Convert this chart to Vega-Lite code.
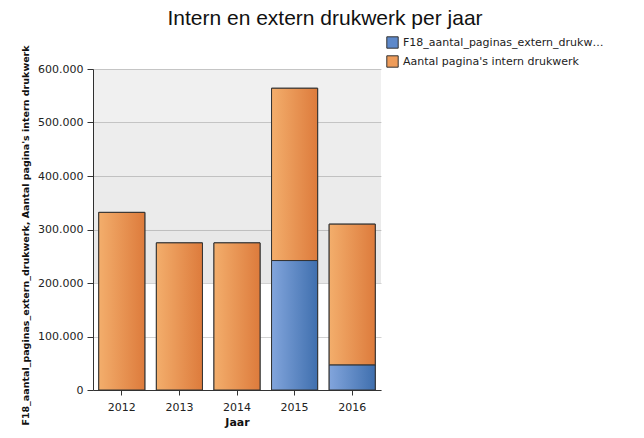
{
  "$schema": "https://vega.github.io/schema/vega-lite/v6.json",
  "width": 288,
  "height": 321,
  "autosize": "none",
  "padding": {"left": 93, "top": 69, "right": 263, "bottom": 48},
  "background": "white",
  "title": {
    "text": "Intern en extern drukwerk per jaar",
    "font": "Liberation Sans",
    "fontSize": 21,
    "fontWeight": "normal",
    "color": "#111",
    "anchor": "middle",
    "frame": "group",
    "dx": 88,
    "offset": 7
  },
  "config": {
    "view": {"stroke": null},
    "axis": {
      "labelFont": "DejaVu Sans",
      "labelFontSize": 11,
      "labelColor": "#222",
      "titleFont": "DejaVu Sans",
      "titleColor": "#111",
      "domainColor": "#333",
      "tickColor": "#333",
      "gridColor": "#d2d2d2"
    }
  },
  "datasets": {
    "bars": [
      {"Jaar": "2012", "series": "Aantal pagina's intern drukwerk", "value": 332000, "ord": 2},
      {"Jaar": "2013", "series": "Aantal pagina's intern drukwerk", "value": 275000, "ord": 2},
      {"Jaar": "2014", "series": "Aantal pagina's intern drukwerk", "value": 275000, "ord": 2},
      {"Jaar": "2015", "series": "F18_aantal_paginas_extern_drukwerk", "value": 242000, "ord": 1},
      {"Jaar": "2015", "series": "Aantal pagina's intern drukwerk", "value": 322000, "ord": 2},
      {"Jaar": "2016", "series": "F18_aantal_paginas_extern_drukwerk", "value": 47000, "ord": 1},
      {"Jaar": "2016", "series": "Aantal pagina's intern drukwerk", "value": 263000, "ord": 2}
    ],
    "bands": [
      {"lo": 500000, "hi": 600000, "band": "a"},
      {"lo": 400000, "hi": 500000, "band": "b"},
      {"lo": 300000, "hi": 400000, "band": "c"},
      {"lo": 200000, "hi": 300000, "band": "d"}
    ]
  },
  "layer": [
    {
      "data": {"name": "bands"},
      "mark": {"type": "rect", "fill": "#000"},
      "encoding": {
        "y": {"field": "hi", "type": "quantitative", "scale": {"domain": [0, 600000], "nice": false}, "title": "F18_aantal_paginas_extern_drukwerk, Aantal pagina's intern drukwerk"},
        "y2": {"field": "lo"},
        "opacity": {"field": "band", "type": "nominal", "scale": {"domain": ["a", "b", "c", "d"], "range": [0.06, 0.09, 0.055, 0.025]}, "legend": null}
      }
    },
    {
      "data": {"name": "bars"},
      "mark": {"type": "bar", "stroke": "#333", "strokeWidth": 1},
      "encoding": {
        "x": {
          "field": "Jaar", "type": "nominal",
          "scale": {"paddingInner": 0.2, "paddingOuter": 0.1},
          "axis": {"labelAngle": 0, "tickSize": 5, "labelPadding": 6, "title": "Jaar", "titleFontSize": 11, "titleFontWeight": "bold", "titlePadding": 4}
        },
        "y": {
          "aggregate": "sum", "field": "value", "type": "quantitative", "stack": "zero",
          "scale": {"domain": [0, 600000], "nice": false},
          "axis": {
            "values": [0, 100000, 200000, 300000, 400000, 500000, 600000],
            "labelExpr": "replace(format(datum.value, ','), ',', '.')",
            "tickSize": 6, "labelPadding": 4,
            "title": "F18_aantal_paginas_extern_drukwerk, Aantal pagina's intern drukwerk",
            "titleFontSize": 9.5, "titleFontWeight": "bold",
            "titleAngle": -90, "titleX": -68, "titleY": 166,
            "titleAlign": "center", "titleBaseline": "middle", "titleLimit": 500
          }
        },
        "color": {
          "field": "series", "type": "nominal",
          "scale": {"domain": ["F18_aantal_paginas_extern_drukwerk", "Aantal pagina's intern drukwerk"], "range": ["#5d89cb", "#ee9c5a"]},
          "legend": {
            "title": null, "orient": "none", "legendX": 293, "legendY": -33,
            "symbolType": "square", "symbolSize": 130, "symbolStrokeColor": "#333", "symbolStrokeWidth": 1,
            "labelFont": "DejaVu Sans", "labelFontSize": 11, "labelColor": "#222", "labelLimit": 205, "rowPadding": 2
          }
        },
        "order": {"field": "ord", "type": "quantitative"}
      }
    },
    {
      "data": {"name": "bars"},
      "mark": {"type": "bar", "stroke": "#333", "strokeWidth": 1},
      "encoding": {
        "x": {"field": "Jaar", "type": "nominal"},
        "y": {"aggregate": "sum", "field": "value", "type": "quantitative", "stack": "zero"},
        "detail": {"field": "series", "type": "nominal"},
        "order": {"field": "ord", "type": "quantitative"},
        "fill": {
          "condition": {
            "test": "datum.series === 'F18_aantal_paginas_extern_drukwerk'",
            "value": {"gradient": "linear", "x1": 0, "x2": 1, "y1": 0, "y2": 0, "stops": [{"offset": 0, "color": "#82a5dc"}, {"offset": 1, "color": "#3f6fae"}]}
          },
          "value": {"gradient": "linear", "x1": 0, "x2": 1, "y1": 0, "y2": 0, "stops": [{"offset": 0, "color": "#f3ae6c"}, {"offset": 1, "color": "#dd7b3c"}]}
        }
      }
    }
  ]
}
